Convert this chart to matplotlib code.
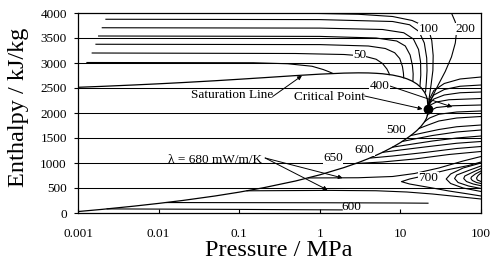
import matplotlib
matplotlib.use("Agg")
import matplotlib.pyplot as plt

plt.rcParams['font.family'] = ['Liberation Serif', 'DejaVu Serif']

# saturation dome (pressure MPa, enthalpy kJ/kg)
sat_p = [0.001, 0.002, 0.005, 0.01, 0.02, 0.05, 0.1, 0.2, 0.5, 1, 2, 3, 4, 5, 6,
         8, 10, 12, 14, 16, 18, 20, 21, 21.6, 22.064]
sat_hf = [29, 73, 138, 192, 251, 340, 417, 505, 640, 763, 909, 1008, 1087, 1155,
          1213, 1317, 1408, 1492, 1571, 1649, 1732, 1827, 1890, 1950, 2084]
sat_hg = [2514, 2533, 2561, 2584, 2609, 2645, 2675, 2706, 2748, 2777, 2798, 2803,
          2801, 2794, 2785, 2759, 2725, 2685, 2638, 2581, 2510, 2411, 2338, 2270, 2084]
crit = (22.064, 2084)

# vapour side contours
lam40 = [(0.00129, 3010), (0.15, 3005), (0.4, 2985), (0.8, 2935), (1.1, 2870), (1.3, 2825),
         (1.45, 2792)]
lam50 = [(0.0015, 3200), (0.5, 3190), (2.0, 3170), (3.5, 3140), (5.0, 3075), (6.0, 2990),
         (6.8, 2880), (7.2, 2800), (7.3, 2768)]
lam60 = [(0.00167, 3375), (1.0, 3368), (4.0, 3340), (6.5, 3290), (8.5, 3205), (9.8, 3090),
         (10.6, 2930), (10.9, 2800), (11.0, 2705)]
lam70 = [(0.0018, 3540), (1.0, 3532), (5.0, 3500), (9.0, 3440), (11.5, 3340), (13.2, 3160),
         (14.1, 2950), (14.4, 2780), (14.3, 2635)]
lam80 = [(0.0020, 3705), (1.0, 3698), (6.0, 3670), (11.0, 3605), (14.5, 3480), (16.8, 3270),
         (17.8, 3020), (17.9, 2760), (17.5, 2540)]
lam90 = [(0.00222, 3875), (1.0, 3868), (8.0, 3830), (13.0, 3765), (17.0, 3630), (19.8, 3400),
         (21.2, 3100), (21.4, 2850), (21.0, 2620), (20.5, 2420)]
lam100 = [(0.5, 4000), (3, 3975), (8, 3930), (14, 3850), (18.5, 3760), (22.3, 3680),
          (24.5, 3450), (25.5, 3150), (25.3, 2850), (24, 2560), (22.7, 2290), (22.064, 2084)]
lam200 = [(43, 4000), (48, 3820), (50, 3660), (48, 3400), (43, 3120), (36, 2830),
          (29, 2540), (24.5, 2300), (22.064, 2084)]

# near-critical fan running to 100 MPa
fan = [
    [(22.064, 2084), (23, 2280), (26, 2450), (35, 2590), (55, 2680), (100, 2720)],
    [(22.064, 2084), (23, 2230), (26, 2360), (35, 2470), (55, 2535), (100, 2560)],
    [(22.064, 2084), (23, 2190), (26, 2280), (35, 2360), (55, 2405), (100, 2420)],
    [(22.064, 2084), (23.5, 2160), (28, 2220), (40, 2265), (100, 2290)],
    [(21.6, 1950), (23, 2040), (28, 2110), (45, 2145), (100, 2160)],
    [(20, 1827), (23, 1900), (30, 1975), (50, 2020), (100, 2040)],
    [(17, 1690), (22, 1760), (30, 1840), (50, 1900), (100, 1930)],
    [(13.5, 1550), (20, 1610), (30, 1670), (50, 1725), (100, 1760)],
    [(10.5, 1430), (16, 1490), (25, 1550), (50, 1620), (100, 1660)],
    [(8, 1317), (13, 1370), (25, 1440), (50, 1500), (100, 1540)],
    [(6, 1213), (10, 1260), (20, 1320), (50, 1395), (100, 1430)],
    [(4.3, 1100), (8, 1140), (20, 1210), (50, 1290), (100, 1330)],
    [(2.8, 990), (6, 1020), (15, 1080), (40, 1170), (100, 1230)],
]

# liquid contours
lam680_hi = [(0.72, 701), (3, 705), (8, 730), (15, 790), (30, 900), (60, 1040), (100, 1130)]
lam680_lo = [(0.125, 444), (1.3, 452), (5, 445), (12, 420), (25, 380), (50, 330), (100, 280)]
lam650_lo = [(0.0125, 209), (0.1, 207), (1, 205), (10, 200), (22, 196)]
lam600_lo = [(0.0023, 82), (0.1, 72), (1.9, 62)]
lam700 = [(100, 1020), (70, 950), (40, 870), (25, 790), (18, 730), (13, 680), (10.3, 627),
          (13, 580), (18, 540), (25, 500), (40, 440), (70, 380), (100, 340)]
arcs = [
    [(100, 1000), (60, 900), (42, 780), (37, 680), (42, 590), (60, 500), (100, 430)],
    [(100, 940), (70, 850), (50, 760), (47, 690), (52, 610), (70, 540), (100, 490)],
    [(100, 890), (80, 820), (63, 740), (61, 690), (66, 630), (80, 580), (100, 545)],
    [(100, 840), (85, 780), (76, 720), (75, 690), (78, 650), (88, 610), (100, 590)],
    [(100, 800), (92, 750), (88, 700), (90, 660), (100, 630)],
]

labels = [("50", 3.12, 3160), ("100", 22.3, 3680), ("200", 64, 3680), ("400", 5.52, 2540),
          ("500", 8.97, 1660), ("600", 3.6, 1260), ("650", 1.45, 1100), ("700", 22.3, 700)]


def draw(ax, pts, lw=0.8):
    p, h = zip(*pts)
    ax.plot(p, h, color='k', lw=lw, solid_joinstyle='round')


fig = plt.figure(figsize=(4.92, 2.66), dpi=100)
ax = fig.add_axes([78 / 492, 53 / 266, 403 / 492, 200 / 266])
ax.set_xscale('log')
ax.set_xlim(0.001, 100)
ax.set_ylim(0, 4000)

for y in range(500, 4000, 500):
    ax.axhline(y, color='k', lw=0.75, zorder=1)

# saturation line
ax.plot(sat_p + sat_p[::-1][1:], sat_hf + sat_hg[::-1][1:], color='k', lw=0.9)

for c in [lam40, lam50, lam60, lam70, lam80, lam90, lam100, lam200]:
    draw(ax, c)
for c in fan:
    draw(ax, c)
for c in [lam680_hi, lam680_lo, lam650_lo, lam600_lo, lam700]:
    draw(ax, c)
for c in arcs:
    draw(ax, c)

ax.plot(crit[0], crit[1], 'o', color='k', ms=6, zorder=5)

for txt, p, h in labels:
    ax.text(p, h, txt, fontsize=9.5, ha='center', va='center', zorder=4,
            bbox=dict(facecolor='white', edgecolor='none', pad=0.2))
ax.text(2.48, 125, "600", fontsize=9.5, ha='center', va='center', zorder=4)

ax.text(0.0821, 2360, "Saturation Line", fontsize=9.5, ha='center', va='center')
ax.text(1.33, 2326, "Critical Point", fontsize=9.5, ha='center', va='center')
ax.text(0.0506, 1060, "λ = 680 mW/m/K", fontsize=9.5, ha='center', va='center')

arr = dict(arrowstyle='-|>', color='k', lw=0.7, mutation_scale=6, shrinkA=0, shrinkB=0)
ax.annotate('', xy=(0.6, 2745), xytext=(0.26, 2330), arrowprops=arr)
ax.annotate('', xy=(18.8, 2080), xytext=(3.6, 2340), arrowprops=arr)
ax.annotate('', xy=(44, 2120), xytext=(7.4, 2540), arrowprops=arr)
ax.annotate('', xy=(1.92, 700), xytext=(0.21, 1100), arrowprops=arr)
ax.annotate('', xy=(1.25, 460), xytext=(0.21, 1100), arrowprops=arr)

ax.set_xticks([0.001, 0.01, 0.1, 1, 10, 100])
ax.set_xticklabels(['0.001', '0.01', '0.1', '1', '10', '100'])
ax.minorticks_off()
ax.set_yticks(range(0, 4001, 500))
ax.tick_params(axis='x', direction='in', length=3, labelsize=9.5, pad=11)
ax.tick_params(axis='y', direction='out', length=3, labelsize=9.5, pad=5)
for s in ax.spines.values():
    s.set_linewidth(0.9)

ax.set_xlabel("Pressure / MPa", fontsize=17.5, va='top')
ax.xaxis.set_label_coords(0.4975, -0.135)
ax.set_ylabel("Enthalpy / kJ/kg", fontsize=17.5)
ax.yaxis.set_label_coords(-0.122, 0.53)

fig.savefig("out.png", dpi=100)
